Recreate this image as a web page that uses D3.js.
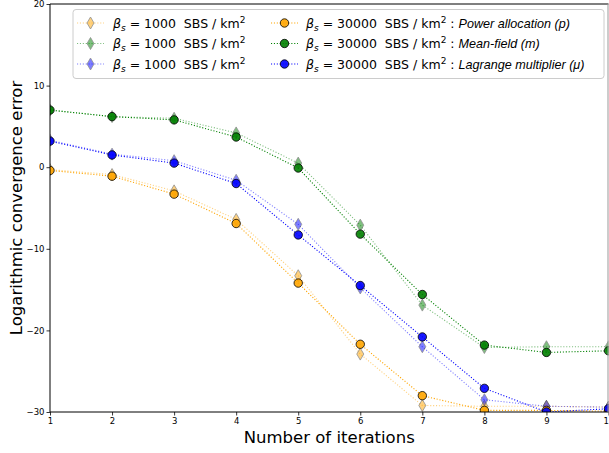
<!DOCTYPE html>
<html>
<head>
<meta charset="utf-8">
<script src="https://cdn.jsdelivr.net/npm/d3@7"></script>
<style>
  html, body { margin: 0; padding: 0; background: #fff; }
  svg { display: block; }
  text { font-family: "DejaVu Sans", sans-serif; }
</style>
</head>
<body>
<svg id="chart" width="609" height="453"></svg>
<script>
// ---- data ----
const iterations = [1, 2, 3, 4, 5, 6, 7, 8, 9, 10];
const xTicks = [1, 2, 3, 4, 5, 6, 7, 8, 9, 10];
const yTicks = [-30, -20, -10, 0, 10, 20];

const p1000  = [-0.3, -0.9, -2.9, -6.4, -13.3, -22.9, -29.2, -29.3, -29.3, -29.4];
const m1000  = [7.0, 6.2, 6.0, 4.2, 0.5, -7.1, -16.9, -22.1, -22.0, -22.0];
const mu1000 = [3.3, 1.6, 0.8, -1.6, -7.0, -14.8, -22.0, -28.5, -29.3, -29.4];

const p30000  = [-0.4, -1.1, -3.3, -6.9, -14.2, -21.7, -28.0, -29.8, -29.8, -29.9];
const m30000  = [7.0, 6.2, 5.8, 3.7, -0.1, -8.2, -15.6, -21.8, -22.7, -22.5];
const mu30000 = [3.2, 1.5, 0.5, -2.0, -8.3, -14.5, -20.8, -27.1, -30.0, -29.6];

const legendHigh = ["Power allocation (p)", "Mean-field (m)", "Lagrange multiplier (\u03bc)"];

const series = [
  {vals: p1000,  color: "#FFA500", marker: "diamond", density: "1000"},
  {vals: m1000,  color: "#008000", marker: "diamond", density: "1000"},
  {vals: mu1000, color: "#0000FF", marker: "diamond", density: "1000"},
  {vals: p30000,  color: "#FFA500", marker: "circle", density: "30000", name: legendHigh[0]},
  {vals: m30000,  color: "#008000", marker: "circle", density: "30000", name: legendHigh[1]},
  {vals: mu30000, color: "#0000FF", marker: "circle", density: "30000", name: legendHigh[2]}
];

// ---- layout ----
const svg = d3.select("#chart");
const L = 50, R = 608.5, T = 4, B = 412;
const x = d3.scaleLinear().domain([1, 10]).range([L, R]);
const y = d3.scaleLinear().domain([-30, 20]).range([B, T]);

svg.append("defs").append("clipPath").attr("id", "clip")
  .append("rect").attr("x", L).attr("y", T).attr("width", R - L).attr("height", B - T);

const diamondPath = (cx, cy, w, h) => `M${cx},${cy - h/2}L${cx + w/2},${cy}L${cx},${cy + h/2}L${cx - w/2},${cy}Z`;

function drawMarker(g, s, cx, cy) {
  if (s.marker === "diamond") {
    g.append("path").attr("d", diamondPath(cx, cy, 7, 12))
      .attr("fill", s.color).attr("stroke", "#222").attr("stroke-width", 0.8)
      .attr("opacity", 0.5);
  } else {
    g.append("circle").attr("cx", cx).attr("cy", cy).attr("r", 4.2)
      .attr("fill", s.color).attr("fill-opacity", 0.9)
      .attr("stroke", "#000").attr("stroke-width", 0.8);
  }
}

const plot = svg.append("g").attr("clip-path", "url(#clip)");
const line = d3.line().x((d, i) => x(iterations[i])).y(d => y(d));

series.forEach(s => {
  const g = plot.append("g");
  g.append("path").datum(s.vals).attr("d", line)
    .attr("fill", "none").attr("stroke", s.color)
    .attr("stroke-width", 1.1).attr("stroke-dasharray", "1.1,1.8")
    .attr("opacity", s.marker === "diamond" ? 0.5 : 1);
  s.vals.forEach((v, i) => drawMarker(g, s, x(iterations[i]), y(v)));
});

// ---- axes ----
const xAxis = d3.axisBottom(x).tickValues(xTicks).tickSize(3.5).tickPadding(2).tickFormat(d3.format("d"));
const yAxis = d3.axisLeft(y).tickValues(yTicks).tickSize(3.5).tickPadding(2)
  .tickFormat(d => d < 0 ? "\u2212" + Math.abs(d) : String(d));

const gx = svg.append("g").attr("transform", `translate(0,${B})`).call(xAxis);
const gy = svg.append("g").attr("transform", `translate(${L},0)`).call(yAxis);
[gx, gy].forEach(g => {
  g.select(".domain").remove();
  g.selectAll("line").attr("stroke", "#000").attr("stroke-width", 0.8);
  g.selectAll("text").attr("font-family", "DejaVu Sans").attr("font-size", 8.5).attr("fill", "#000");
});

// spines
svg.append("line").attr("x1", L).attr("x2", L).attr("y1", T).attr("y2", B).attr("stroke", "#000").attr("stroke-width", 1);
svg.append("line").attr("x1", L).attr("x2", R).attr("y1", B).attr("y2", B).attr("stroke", "#000").attr("stroke-width", 1);
svg.append("line").attr("x1", L).attr("x2", R).attr("y1", T).attr("y2", T).attr("stroke", "#000").attr("stroke-width", 1);
svg.append("line").attr("x1", R - 0.5).attr("x2", R - 0.5).attr("y1", T).attr("y2", B).attr("stroke", "#999").attr("stroke-width", 1);

// axis labels
svg.append("text").attr("x", (L + R) / 2).attr("y", 443).attr("text-anchor", "middle")
  .attr("font-size", 16.5).attr("fill", "#000").text("Number of iterations");
svg.append("text").attr("transform", `translate(22,${(T + B) / 2}) rotate(-90)`)
  .attr("text-anchor", "middle").attr("font-size", 16.5).attr("fill", "#000")
  .text("Logarithmic convergence error");

// ---- legend ----
const leg = svg.append("g");
leg.append("rect").attr("x", 73).attr("y", 9.5).attr("width", 531).attr("height", 69)
  .attr("rx", 3).attr("fill", "#fff").attr("fill-opacity", 0.8)
  .attr("stroke", "#ccc").attr("stroke-width", 1);

const rowsY = [23, 43.5, 64];
const cols = [{lx0: 77, lx1: 104, mx: 90.5, tx: 113}, {lx0: 271, lx1: 298, mx: 284.5, tx: 306}];

function betaLabel(t, density) {
  t.append("tspan").attr("font-style", "italic").text("\u03b2");
  t.append("tspan").attr("font-style", "italic").attr("font-size", 9).attr("dy", 3).text("s");
  t.append("tspan").attr("dy", -3).text(" = " + density + "  SBS / km");
  t.append("tspan").attr("font-size", 9).attr("dy", -5).text("2");
}

series.forEach((s, k) => {
  const col = cols[s.marker === "diamond" ? 0 : 1];
  const cy = rowsY[k % 3];
  leg.append("line").attr("x1", col.lx0).attr("x2", col.lx1).attr("y1", cy).attr("y2", cy)
    .attr("stroke", s.color).attr("stroke-width", 1.1).attr("stroke-dasharray", "1.1,1.8")
    .attr("opacity", s.marker === "diamond" ? 0.5 : 1);
  drawMarker(leg, s, col.mx, cy);
  const t = leg.append("text").attr("x", col.tx).attr("y", cy + 4.5)
    .attr("font-size", 12.5).attr("fill", "#000").style("white-space", "pre");
  betaLabel(t, s.density);
  if (s.name) {
    t.append("tspan").attr("dy", 5).text(" : ");
    t.append("tspan").attr("font-family", "Liberation Sans").attr("font-style", "italic")
      .attr("font-size", 12.6).text(s.name);
  }
});
</script>
</body>
</html>
